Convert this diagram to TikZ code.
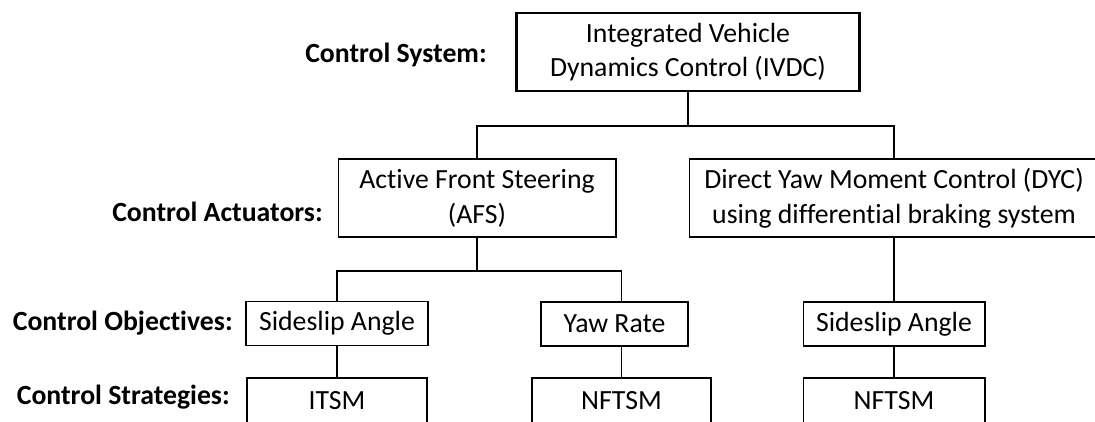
\documentclass[tikz,border=0pt]{standalone}
\usepackage{fontspec}
\setmainfont{Carlito}[Ligatures=NoCommon]
\usepackage{tikz}

\newcommand{\boxfont}{\fontsize{15.8}{19.8}\selectfont}

\tikzset{
	box/.style={draw, line width=0.6pt, align=center, inner sep=0pt, font=\boxfont},
	topbox/.style={box, line width=1.5pt},
	lbl/.style={anchor=east, font=\boxfont\bfseries, inner sep=0pt},
	wire/.style={line width=0.8pt}
}

\begin{document}
\begin{tikzpicture}[x=0.02cm, y=-0.02cm]
		%%%%% START %%%%%
		\useasboundingbox (0, 0) rectangle (1095, 422);
		\clip (0, 0) rectangle (1095, 422);
		
		\node[topbox, minimum width=6.86cm, minimum height=1.56cm] (ivdc) at (688, 52) {Integrated Vehicle\\Dynamics Control (IVDC)};
		
		\node[box, minimum width=5.56cm, minimum height=1.56cm] (afs) at (477, 198) {Active Front Steering\\(AFS)};
		\node[box, minimum width=8.2cm, minimum height=1.56cm] (dyc) at (894, 198) {Direct Yaw Moment Control (DYC)\\using differential braking system};
		
		\node[box, minimum width=3.64cm, minimum height=0.88cm] (slipA) at (337, 323.5) {Sideslip Angle};
		\node[box, minimum width=2.94cm, minimum height=0.88cm] (yaw) at (614.5, 324) {Yaw Rate};
		\node[box, minimum width=3.64cm, minimum height=0.88cm] (slipB) at (894, 324) {Sideslip Angle};
		
		\node[box, minimum width=3.6cm, minimum height=0.92cm] (itsm) at (337, 401) {ITSM};
		\node[box, minimum width=3.58cm, minimum height=0.92cm] (nftsmA) at (621.5, 401) {NFTSM};
		\node[box, minimum width=3.64cm, minimum height=0.92cm] (nftsmB) at (894, 401) {NFTSM};
		
		% row labels
		\node[lbl] (lsys) at (487, 55) {Control System:};
		\node[lbl] (lact) at (323, 212) {Control Actuators:};
		\node[lbl] (lobj) at (233, 323) {Control Objectives:};
		\node[lbl] (lstr) at (230, 397) {Control Strategies:};
		
		% tree lines
		\coordinate (barA) at (688, 126);
		\coordinate (barB) at (477, 271);
		\draw[wire] (ivdc.south) -- (barA);
		\draw[wire] (barA) -| (afs.north);
		\draw[wire] (barA) -| (dyc.north);
		
		\draw[wire] (afs.south) -- (barB);
		\draw[wire] (barB) -| (slipA.north);
		\draw[wire] (barB) -| (yaw.north -| nftsmA.north);
		\draw[wire] (dyc.south) -- (slipB.north);
		
		\draw[wire] (slipA.south) -- (itsm.north);
		\draw[wire] (yaw.south -| nftsmA.north) -- (nftsmA.north);
		\draw[wire] (slipB.south) -- (nftsmB.north);
		
		%%%%% END %%%%%
	\end{tikzpicture}
\end{document}
